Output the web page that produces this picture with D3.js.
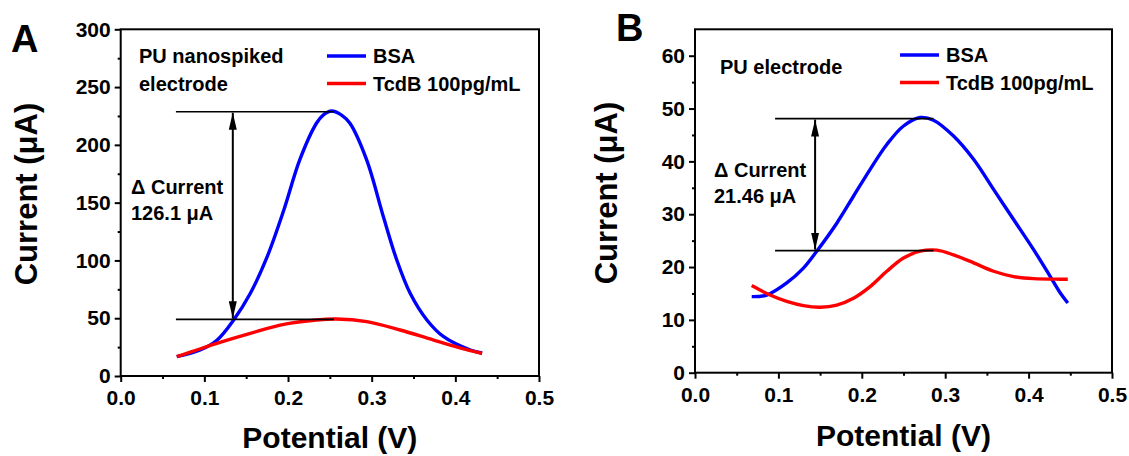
<!DOCTYPE html>
<html>
<head>
<meta charset="utf-8">
<script src="https://cdn.jsdelivr.net/npm/d3@7"></script>
<style>
  body { margin: 0; background: #fff; }
  svg text { font-family: "Liberation Sans", Arial, sans-serif; font-weight: bold; fill: #000; }
</style>
</head>
<body>
<svg id="chart"></svg>
<script>
// panel A : PU nanospiked electrode
const potA_bsa = [0.067, 0.095, 0.115, 0.135, 0.155, 0.175, 0.195, 0.214, 0.234, 0.242, 0.252, 0.264, 0.274, 0.294, 0.314, 0.330, 0.346, 0.366, 0.386, 0.418, 0.432];
const curA_bsa = [16.7, 22.5, 31, 48.5, 71.6, 103, 143.6, 187, 218.7, 225.8, 229.3, 225.8, 218.7, 187, 137.8, 100.4, 71.6, 48.5, 34, 22.5, 19.9];
const potA_tcdb = [0.067, 0.115, 0.155, 0.195, 0.234, 0.258, 0.294, 0.334, 0.374, 0.418, 0.432];
const curA_tcdb = [16.7, 28.3, 36.9, 44.7, 48.5, 49.3, 47, 39.8, 31.1, 21.9, 19.5];

// panel B : PU electrode
const potB_bsa = [0.068, 0.086, 0.110, 0.130, 0.146, 0.170, 0.190, 0.210, 0.230, 0.250, 0.270, 0.286, 0.310, 0.334, 0.358, 0.382, 0.406, 0.426, 0.438, 0.447];
const curB_bsa = [14.4, 14.7, 17, 19.8, 23, 28.3, 33.4, 38.5, 43.2, 46.7, 48.3, 47.8, 44.8, 40.4, 34.7, 29, 23.3, 18.2, 15.1, 13.2];
const potB_tcdb = [0.068, 0.090, 0.110, 0.130, 0.150, 0.170, 0.190, 0.210, 0.230, 0.250, 0.270, 0.290, 0.310, 0.334, 0.358, 0.382, 0.406, 0.438, 0.447];
const curB_tcdb = [16.5, 14.7, 13.5, 12.7, 12.4, 12.8, 14.1, 16.3, 19.2, 21.7, 23, 23.2, 22.3, 20.8, 19.2, 18.2, 17.8, 17.7, 17.7];

// ticks
const xTicks = [0, 0.1, 0.2, 0.3, 0.4, 0.5];
const xMinor = [0.05, 0.15, 0.25, 0.35, 0.45];
const yTicksA = [0, 50, 100, 150, 200, 250, 300];
const yMinorA = [25, 75, 125, 175, 225, 275];
const yTicksB = [0, 10, 20, 30, 40, 50, 60];
const yMinorB = [5, 15, 25, 35, 45, 55];

// legend
const seriesNames = ['BSA', 'TcdB 100pg/mL'];
const seriesColors = ['#0000ff', '#ff0000'];

// delta annotations
const deltaA = { x0: 0.066, x1: 0.255, top: 228.7, bottom: 49, arrowX: 0.134, label: ['\u0394 Current', '126.1 \u03bcA'] };
const deltaB = { x0: 0.096, x1: 0.286, top: 48.1, bottom: 23.1, arrowX: 0.144, label: ['\u0394 Current', '21.46 \u03bcA'] };

const width = 1129, height = 456;
const svg = d3.select('#chart').attr('width', width).attr('height', height);

svg.append('defs').append('marker')
  .attr('id', 'head')
  .attr('viewBox', '0 0 17 8')
  .attr('refX', 17).attr('refY', 4)
  .attr('markerWidth', 17).attr('markerHeight', 8)
  .attr('markerUnits', 'userSpaceOnUse')
  .attr('orient', 'auto-start-reverse')
  .append('path')
  .attr('d', 'M0,0 L17,4 L0,8 Z')
  .attr('fill', '#000');

let drawPanel = (p) => {
  const x = d3.scaleLinear().domain([0, 0.5]).range([p.left, p.right]);
  const y = d3.scaleLinear().domain([0, p.yMax]).range([p.bottom, p.top]);
  const g = svg.append('g');

  // axes
  g.append('g')
    .attr('transform', `translate(0, ${p.bottom})`)
    .call(d3.axisBottom(x).tickValues(xTicks).tickSize(6).tickPadding(8).tickFormat(d3.format('.1f')));
  g.append('g')
    .attr('transform', `translate(0, ${p.bottom})`)
    .call(d3.axisBottom(x).tickValues(xMinor).tickSize(3).tickFormat(''));
  g.append('g')
    .attr('transform', `translate(${p.left}, 0)`)
    .call(d3.axisLeft(y).tickValues(p.yTicks).tickSize(6).tickPadding(4));
  g.append('g')
    .attr('transform', `translate(${p.left}, 0)`)
    .call(d3.axisLeft(y).tickValues(p.yMinor).tickSize(3).tickFormat(''));

  g.selectAll('.domain').remove();
  g.selectAll('.tick line').attr('stroke', '#000').attr('stroke-width', 2);
  g.selectAll('.tick text')
    .style('font-size', '21px')
    .style('font-family', '"Liberation Sans", Arial, sans-serif')
    .style('font-weight', 'bold')
    .attr('fill', '#000');

  // frame
  g.append('rect')
    .attr('x', p.left).attr('y', p.top)
    .attr('width', p.right - p.left).attr('height', p.bottom - p.top)
    .attr('fill', 'none').attr('stroke', '#000').attr('stroke-width', 2);

  // curves
  const line = d3.line()
    .x(d => x(d[0]))
    .y(d => y(d[1]))
    .curve(d3.curveCatmullRom.alpha(0.5));

  p.series.forEach((s, i) => {
    g.append('path')
      .datum(d3.zip(s.pot, s.cur))
      .attr('d', line)
      .attr('fill', 'none')
      .attr('stroke', seriesColors[i])
      .attr('stroke-width', 3.4);
  });

  // delta annotation
  const d = p.delta;
  [d.top, d.bottom].forEach(v => {
    g.append('line')
      .attr('x1', x(d.x0)).attr('x2', x(d.x1))
      .attr('y1', y(v)).attr('y2', y(v))
      .attr('stroke', '#000').attr('stroke-width', 1.6);
  });
  g.append('line')
    .attr('x1', x(d.arrowX)).attr('x2', x(d.arrowX))
    .attr('y1', y(d.top) + 1).attr('y2', y(d.bottom) - 1)
    .attr('stroke', '#000').attr('stroke-width', 2)
    .attr('marker-start', 'url(#head)')
    .attr('marker-end', 'url(#head)');
  d.label.forEach((t, i) => {
    g.append('text')
      .attr('x', p.deltaText[0]).attr('y', p.deltaText[1] + i * 26)
      .style('font-size', '20px')
      .text(t);
  });

  // electrode label
  p.note.forEach((t, i) => {
    g.append('text')
      .attr('x', p.noteXY[0]).attr('y', p.noteXY[1] + i * 28)
      .style('font-size', '20px')
      .text(t);
  });

  // legend
  seriesNames.forEach((name, i) => {
    const ly = p.legend[1] + i * 27.5;
    g.append('line')
      .attr('x1', p.legend[0]).attr('x2', p.legend[0] + 39)
      .attr('y1', ly).attr('y2', ly)
      .attr('stroke', seriesColors[i]).attr('stroke-width', 3.5);
    g.append('text')
      .attr('x', p.legend[0] + 46).attr('y', ly + 7)
      .style('font-size', '20px')
      .text(name);
  });

  // axis titles
  g.append('text')
    .attr('x', (p.left + p.right) / 2).attr('y', p.xTitleY)
    .attr('text-anchor', 'middle')
    .style('font-size', '30px')
    .text('Potential (V)');
  g.append('text')
    .attr('transform', `translate(${p.yTitleX}, ${p.yTitleY}) rotate(-90)`)
    .attr('text-anchor', 'middle')
    .style('font-size', '31px')
    .text('Current (\u03bcA)');

  // panel letter
  g.append('text')
    .attr('x', p.letterXY[0]).attr('y', p.letterXY[1])
    .style('font-size', '38px')
    .text(p.letter);
};

drawPanel({
  left: 120.7, right: 539, top: 29.3, bottom: 376, yMax: 300,
  yTicks: yTicksA, yMinor: yMinorA,
  series: [{ pot: potA_bsa, cur: curA_bsa }, { pot: potA_tcdb, cur: curA_tcdb }],
  delta: deltaA, deltaText: [131, 194],
  note: ['PU nanospiked', 'electrode'], noteXY: [139, 63],
  legend: [327, 56],
  xTitleY: 448, yTitleX: 37, yTitleY: 194,
  letter: 'A', letterXY: [11, 52]
});

drawPanel({
  left: 695, right: 1112, top: 29.3, bottom: 372.7, yMax: 65,
  yTicks: yTicksB, yMinor: yMinorB,
  series: [{ pot: potB_bsa, cur: curB_bsa }, { pot: potB_tcdb, cur: curB_tcdb }],
  delta: deltaB, deltaText: [714, 177],
  note: ['PU electrode'], noteXY: [720, 74],
  legend: [900, 55],
  xTitleY: 446, yTitleX: 617, yTitleY: 193,
  letter: 'B', letterXY: [616, 41]
});
</script>
</body>
</html>
